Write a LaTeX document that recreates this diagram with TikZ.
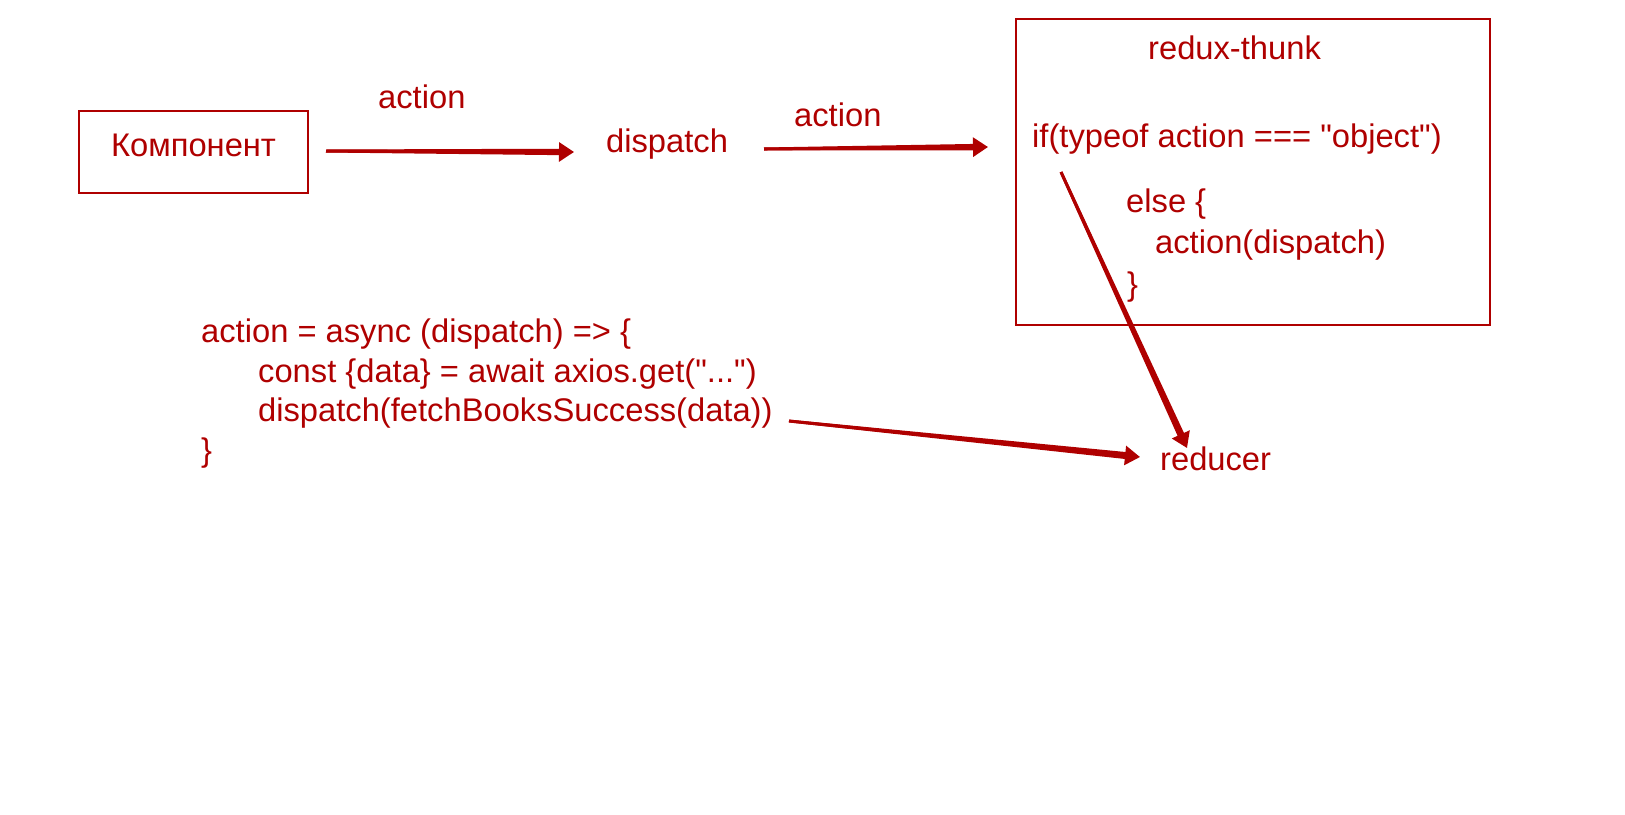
\documentclass[tikz,border=0pt]{standalone}
\usepackage{fontspec}
\newfontfamily\lsans{Liberation Sans}
\usetikzlibrary{arrows.meta,calc}
\definecolor{ink}{RGB}{175,0,0}
\tikzset{
  txt/.style={text=ink, inner sep=0pt, anchor=base west, font=\lsans\fontsize{32.7}{40}\selectfont},
  framebox/.style={draw=ink, line width=1.6pt, inner sep=0pt, text=ink, font=\lsans\fontsize{32.7}{40}\selectfont},
  conn/.style={draw=ink, line width=3pt, -{Triangle[length=15pt,width=19pt]}},
  taper/.style={fill=ink},
}
% tapered body overlay: from #1 to #2, half widths #3 (start) and #4 (end)
\newcommand\taperbody[4]{%
  \coordinate (tpA) at (#1);
  \coordinate (tpB) at ($(#2)!14pt!(#1)$);
  \fill[taper] let \p1=($(tpB)-(tpA)$), \n1={atan2(\y1,\x1)} in
    ($(tpA)+(\n1+90:#3)$) -- ($(tpB)+(\n1+90:#4)$) --
    ($(tpB)+(\n1-90:#4)$) -- ($(tpA)+(\n1-90:#3)$) -- cycle;
}
\begin{document}
\begin{tikzpicture}[x=1pt,y=-1pt]
\useasboundingbox (0,0) rectangle (1625,814);

% component box
\node[framebox, minimum width=229pt, minimum height=82pt,
      text height=24pt, text depth=16pt] (comp) at (193.5,152) {Компонент};

% labels
\node[txt] (act1) at (378,108) {action};
\node[txt] (disp) at (606,152) {dispatch};
\node[txt] (act2) at (794,126) {action};

% redux-thunk box
\node[draw=ink, line width=1.6pt, minimum width=474pt, minimum height=306pt, inner sep=0pt] (thunk) at (1253,172) {};
\node[txt] (rtitle) at (1148,59) {redux-thunk};
\node[txt] (iftext) at (1032,147) {if(typeof action === "object")};
\node[txt] (elsetext) at (1126,212) {else \{};
\node[txt] (calltext) at (1155,253) {action(dispatch)};
\node[txt] (closetext) at (1127,295) {\}};

% code block
\node[txt] (c1) at (201,342) {action = async (dispatch) => \{};
\node[txt] (c2) at (258,382) {const \{data\} = await axios.get("...")};
\node[txt] (c3) at (258,421) {dispatch(fetchBooksSuccess(data))};
\node[txt] (c4) at (201,461) {\}};

% reducer
\node[txt] (reducer) at (1160,470) {reducer};

% connector end points
\coordinate (a1s) at (326,151);
\coordinate (a1e) at (574,152);
\coordinate (a2s) at (764,149);
\coordinate (a2e) at (988,147);
\coordinate (ifout) at (1061,172);
\coordinate (redin1) at (1187,448);
\coordinate (c3out) at (789,421);
\coordinate (redin2) at (1140,457);

% connectors
\draw[conn] (a1s) -- (a1e);
\taperbody{a1s}{a1e}{1.5pt}{3.2pt}
\draw[conn] (a2s) -- (a2e);
\taperbody{a2s}{a2e}{1.5pt}{3.2pt}
\draw[conn] (ifout) -- (redin1);
\taperbody{ifout}{redin1}{1.4pt}{3.5pt}
\draw[conn] (c3out) -- (redin2);
\taperbody{c3out}{redin2}{1.4pt}{3.5pt}
\end{tikzpicture}
\end{document}
